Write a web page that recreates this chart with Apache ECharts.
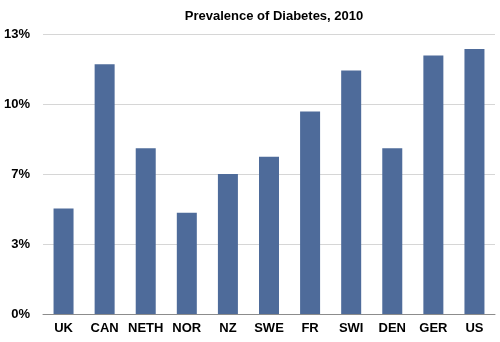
<!DOCTYPE html>
<html>
<head>
<meta charset="utf-8">
<script src="https://cdn.jsdelivr.net/npm/echarts@6/dist/echarts.min.js"></script>
<style>html,body{margin:0;padding:0;background:#fff}#c{width:500px;height:342px}</style>
</head>
<body>
<div id="c"></div>
<script>
const title = 'Prevalence of Diabetes, 2010';
const categories = ['UK','CAN','NETH','NOR','NZ','SWE','FR','SWI','DEN','GER','US'];
const prevalence = [4.9, 11.6, 7.7, 4.7, 6.5, 7.3, 9.4, 11.3, 7.7, 12.0, 12.3];
const yTickValues = [0, 3.25, 6.5, 9.75, 13];
const yTickLabels = ['0%', '3%', '7%', '10%', '13%'];

const font = '"Liberation Sans", Arial, Helvetica, sans-serif';
const chart = echarts.init(document.getElementById('c'), null, {renderer: 'canvas'});
chart.setOption({
  animation: false,
  title: {
    text: title, left: 269, textAlign: 'center', top: 5,
    textStyle: {fontFamily: font, fontSize: 13, fontWeight: 'bold', color: '#000'}
  },
  grid: {left: 43, right: 5, top: 34, bottom: 28, containLabel: false},
  xAxis: {
    type: 'category', data: categories,
    axisLine: {lineStyle: {color: '#8c8c8c', width: 1}},
    axisTick: {show: false},
    axisLabel: {fontFamily: font, fontSize: 13, fontWeight: 'bold', color: '#000', margin: 8, interval: 0}
  },
  yAxis: {
    type: 'value', min: 0, max: 13, interval: 3.25,
    axisLine: {show: false}, axisTick: {show: false},
    splitLine: {lineStyle: {color: '#d6d6d6', width: 1}},
    axisLabel: {
      fontFamily: font, fontSize: 13, fontWeight: 'bold', color: '#000', margin: 13,
      formatter: v => {
        const i = yTickValues.findIndex(t => Math.abs(t - v) < 1e-6);
        return i >= 0 ? yTickLabels[i] : '';
      }
    }
  },
  series: [{
    type: 'bar', data: prevalence, barWidth: 20,
    itemStyle: {color: '#4e6b9a'}
  }]
});
</script>
</body>
</html>
